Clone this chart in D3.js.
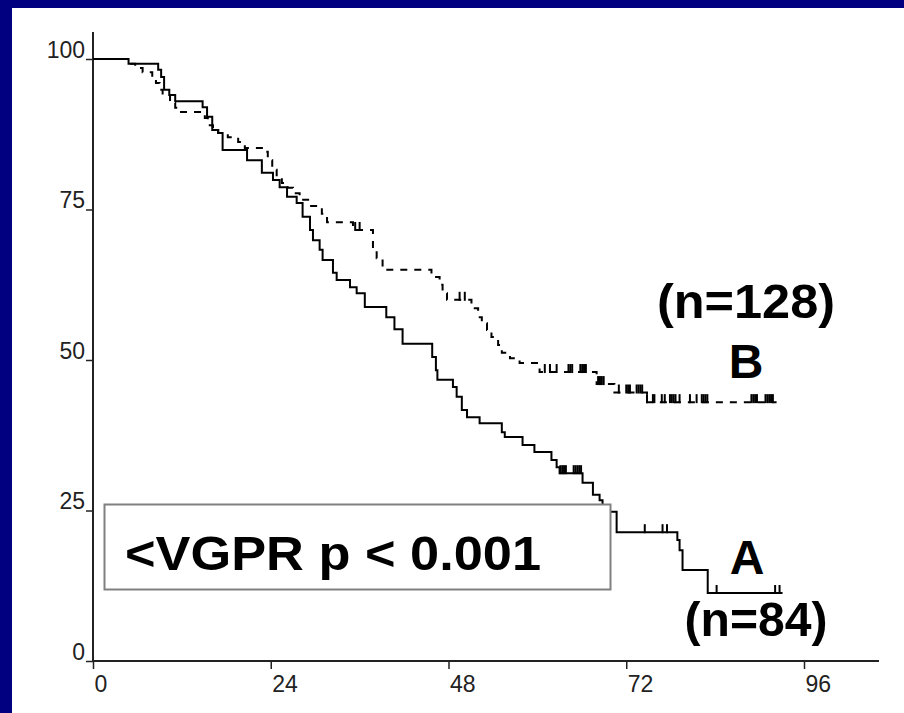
<!DOCTYPE html>
<html>
<head>
<meta charset="utf-8">
<script src="https://cdn.jsdelivr.net/npm/d3@7"></script>
<style>
  html, body { margin: 0; padding: 0; background: #000080; }
  svg { display: block; }
</style>
</head>
<body>
<svg id="chart" width="904" height="713"></svg>
<script>
// ---- data ----
const monthTicks = [0, 24, 48, 72, 96];
const survTicks = [0, 25, 50, 75, 100];

// Curve A (solid, <VGPR, n=84): step times (months) and survival (%) after each step
const timesA = [0, 4.8, 8.8, 9.2, 9.6, 10.3, 11.1, 14.8, 15.4, 16.1, 16.9, 17.5, 20.8, 22.8, 24.3, 25.2, 26.2, 27.5, 28.3, 29.3, 29.7, 30.6, 31.0, 32.4, 32.9, 34.7, 35.6, 36.7, 39.6, 40.7, 41.8, 45.8, 46.3, 46.5, 48.6, 49.1, 49.8, 50.5, 52.2, 55.2, 55.6, 58.0, 59.6, 61.9, 62.6, 63.0, 66.1, 67.5, 68.4, 68.8, 69.1, 70.7, 78.9, 79.2, 79.6, 83.0, 93.1];
const survA  = [100, 99.2, 98.2, 97.0, 94.9, 94.0, 93.0, 92.0, 90.4, 88.2, 87.7, 84.9, 83.2, 81.1, 79.9, 78.7, 77.1, 76.1, 73.8, 71.6, 69.9, 68.3, 66.6, 64.5, 63.3, 62.1, 61.1, 58.8, 57.1, 55.1, 52.7, 50.5, 48.3, 46.7, 45.5, 43.9, 41.7, 40.5, 39.5, 38.0, 37.2, 35.9, 34.7, 33.4, 32.2, 31.2, 29.6, 27.6, 26.7, 25.9, 24.8, 21.4, 20.1, 18.4, 15.1, 11.3, 11.3];
const censorA = [63.1, 63.35, 63.6, 63.85, 64.9, 65.15, 65.4, 65.65, 65.9, 74.5, 76.9, 77.5, 84.2, 92.1, 92.7];

// Curve B (dashed, n=128)
const timesB = [0, 5.0, 5.7, 6.7, 8.0, 8.5, 9.0, 9.4, 10.4, 11.1, 11.7, 15.1, 15.5, 16.2, 16.9, 18.2, 19.6, 20.5, 23.2, 23.6, 24.2, 24.8, 25.5, 26.3, 27.0, 27.9, 29.3, 30.9, 31.6, 35.1, 37.8, 38.3, 39.1, 45.7, 46.8, 47.2, 47.8, 51.1, 52.0, 52.5, 53.2, 53.8, 54.7, 55.2, 56.3, 57.6, 60.3, 68.0, 70.4, 74.8, 92.3];
const survB  = [100, 99.2, 98.5, 97.8, 97.0, 96.0, 94.9, 94.0, 92.7, 91.9, 91.2, 90.2, 89.0, 88.2, 87.7, 87.0, 86.2, 85.2, 84.6, 83.2, 81.6, 80.4, 79.4, 78.6, 77.7, 76.6, 75.6, 74.3, 72.9, 71.6, 68.3, 66.9, 65.0, 63.8, 62.5, 61.1, 60.0, 58.6, 57.1, 56.1, 55.0, 53.8, 52.5, 51.2, 50.3, 49.5, 48.0, 46.0, 44.6, 43.0, 43.0];
const censorB = [35.4, 36.0, 49.5, 50.2, 61.0, 61.7, 62.6, 64.2, 64.45, 64.7, 65.8, 66.05, 66.3, 66.55, 68.2, 68.45, 68.7, 68.95, 71.0, 72.0, 72.25, 72.5, 73.4, 73.65, 73.9, 74.15, 74.8, 75.6, 75.8, 76.8, 77.2, 77.9, 78.15, 78.4, 78.65, 79.2, 80.6, 81.5, 82.2, 82.45, 82.7, 82.95, 88.9, 89.15, 89.4, 89.65, 90.8, 91.05, 91.3, 91.55, 91.8];

const pValueText = "<VGPR p < 0.001";
const labelB = ["(n=128)", "B"];
const labelA = ["A", "(n=84)"];

// ---- drawing ----
const svg = d3.select("#chart");
svg.append("rect").attr("x", 12).attr("y", 8).attr("width", 892).attr("height", 705).attr("fill", "#ffffff");

const x = d3.scaleLinear().domain([0, 96]).range([93, 804]);
const y = d3.scaleLinear().domain([0, 100]).range([661, 59]);

const fontTick = "'Liberation Sans', Arial, sans-serif";

// x axis
const gx = svg.append("g").attr("transform", "translate(0,661)")
  .call(d3.axisBottom(x).tickValues(monthTicks).tickSize(8).tickFormat(d3.format("d")));
gx.select(".domain").remove();
gx.selectAll(".tick line").attr("stroke", "#222").attr("stroke-width", 1.5);
gx.selectAll(".tick text").attr("text-anchor", "start").attr("x", 1).attr("y", 31).attr("dy", 0)
  .attr("font-family", fontTick).attr("font-size", 23).attr("fill", "#222");
svg.append("line").attr("x1", 93).attr("x2", 879).attr("y1", 661).attr("y2", 661)
  .attr("stroke", "#222").attr("stroke-width", 2);

// y axis
const gy = svg.append("g").attr("transform", "translate(93,0)")
  .call(d3.axisLeft(y).tickValues(survTicks).tickSize(7).tickFormat(d3.format("d")));
gy.select(".domain").remove();
gy.selectAll(".tick line").attr("stroke", "#222").attr("stroke-width", 1.5);
gy.selectAll(".tick text").attr("x", -8).attr("dy", "-0.08em")
  .attr("font-family", fontTick).attr("font-size", 23).attr("fill", "#222");
svg.append("line").attr("x1", 93).attr("x2", 93).attr("y1", 32).attr("y2", 662)
  .attr("stroke", "#222").attr("stroke-width", 2);

// curves
const line = d3.line().x(d => x(d[0])).y(d => y(d[1])).curve(d3.curveStepAfter);
const ptsA = timesA.map((t, i) => [t, survA[i]]);
const ptsB = timesB.map((t, i) => [t, survB[i]]);

svg.append("path").attr("d", line(ptsB)).attr("fill", "none").attr("stroke", "#000")
  .attr("stroke-width", 2).attr("stroke-dasharray", "7,7");
svg.append("path").attr("d", line(ptsA)).attr("fill", "none").attr("stroke", "#000")
  .attr("stroke-width", 2);

function levelAt(times, surv, t) {
  const i = d3.bisectRight(times, t) - 1;
  return surv[Math.max(0, i)];
}
function drawCensor(times, surv, cens) {
  svg.append("g").selectAll("line").data(cens).join("line")
    .attr("x1", d => x(d)).attr("x2", d => x(d))
    .attr("y1", d => y(levelAt(times, surv, d)) + 1)
    .attr("y2", d => y(levelAt(times, surv, d)) - 8)
    .attr("stroke", "#000").attr("stroke-width", 2);
}
drawCensor(timesA, survA, censorA);
drawCensor(timesB, survB, censorB);

// p-value box
svg.append("rect").attr("x", 104.5).attr("y", 504.5).attr("width", 506).attr("height", 85)
  .attr("fill", "#fff").attr("stroke", "#808080").attr("stroke-width", 2);
const bigFont = "'Liberation Sans', Arial, Helvetica, sans-serif";
svg.append("text").attr("x", 125).attr("y", 570).attr("font-family", bigFont)
  .attr("font-weight", "bold").attr("font-size", 48)
  .attr("textLength", 416).attr("lengthAdjust", "spacingAndGlyphs").text(pValueText);

// curve labels
function label(txt, cx, base, len) {
  const t = svg.append("text").attr("x", cx).attr("y", base).attr("text-anchor", "middle")
    .attr("font-family", bigFont).attr("font-weight", "bold").attr("font-size", 48).text(txt);
  if (len) t.attr("textLength", len).attr("lengthAdjust", "spacingAndGlyphs");
}
label(labelB[0], 746, 318, 178);
label(labelB[1], 746, 378);
label(labelA[0], 747, 574);
label(labelA[1], 756, 636, 143);
</script>
</body>
</html>
